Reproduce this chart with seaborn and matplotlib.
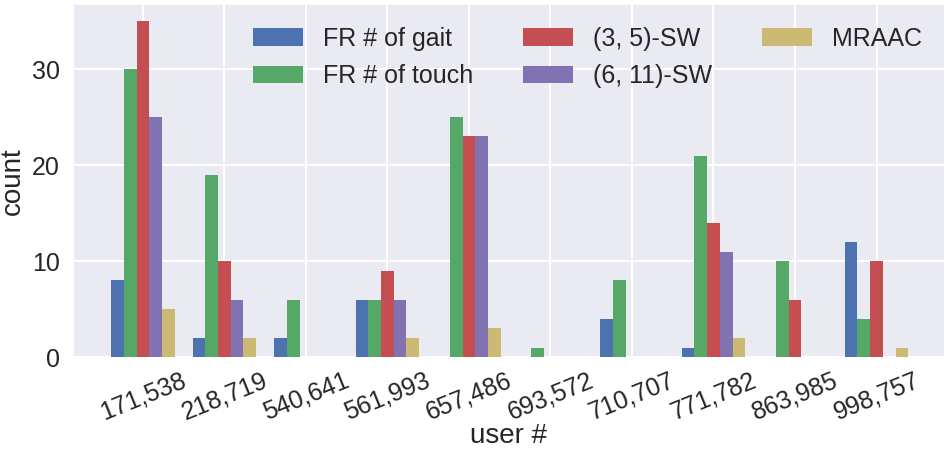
import matplotlib
matplotlib.use("Agg")
import matplotlib.pyplot as plt
import seaborn as sns
import pandas as pd

users = ["171,538", "218,719", "540,641", "561,993", "657,486",
         "693,572", "710,707", "771,782", "863,985", "998,757"]
fr_gait = [8, 2, 2, 6, 0, 0, 4, 1, 0, 12]
fr_touch = [30, 19, 6, 6, 25, 1, 8, 21, 10, 4]
sw_3_5 = [35, 10, 0, 9, 23, 0, 0, 14, 6, 10]
sw_6_11 = [25, 6, 0, 6, 23, 0, 0, 11, 0, 0]
mraac = [5, 2, 0, 2, 3, 0, 0, 2, 0, 1]

series_names = ["FR # of gait", "FR # of touch", "(3, 5)-SW", "(6, 11)-SW", "MRAAC"]
series_vals = [fr_gait, fr_touch, sw_3_5, sw_6_11, mraac]
colors = ["#4C72B0", "#55A868", "#C44E52", "#8172B2", "#CCB974"]

rows = []
for name, vals in zip(series_names, series_vals):
    for u, v in zip(users, vals):
        rows.append({"user #": u, "count": v, "series": name})
df = pd.DataFrame(rows)

sns.set_theme(style="darkgrid")
plt.rcParams['font.family'] = ['Liberation Sans', 'DejaVu Sans']

fig = plt.figure(figsize=(9.45, 4.5), dpi=100)
ax = fig.add_axes([0.077, 0.204, 0.923, 0.787])
sns.barplot(data=df, x="user #", y="count", hue="series", hue_order=series_names,
            palette=colors, saturation=1, width=0.78, ax=ax, errorbar=None,
            linewidth=0)

ax.grid(True, axis='both', color='white', linewidth=1.4)
ax.set_axisbelow(True)
ax.set_xlim(-0.86, 9.84)
ax.set_ylim(-0.1, 36.8)
ax.set_yticks([0, 10, 20, 30])
ax.tick_params(axis='y', labelsize=18)
ax.tick_params(axis='x', labelsize=18, pad=1)
for lab in ax.get_xticklabels():
    lab.set_rotation(22)
    lab.set_ha("center")
ax.set_xlabel("user #", fontsize=20, labelpad=-1)
ax.set_ylabel("count", fontsize=20)

ax.legend(loc="upper right", ncol=3, fontsize=18, frameon=False,
          handlelength=2.0, handleheight=0.7, columnspacing=2.0,
          labelspacing=0.55, handletextpad=0.8, borderaxespad=0.5,
          bbox_to_anchor=(1.0, 1.0))

fig.savefig("out.png", dpi=100)
